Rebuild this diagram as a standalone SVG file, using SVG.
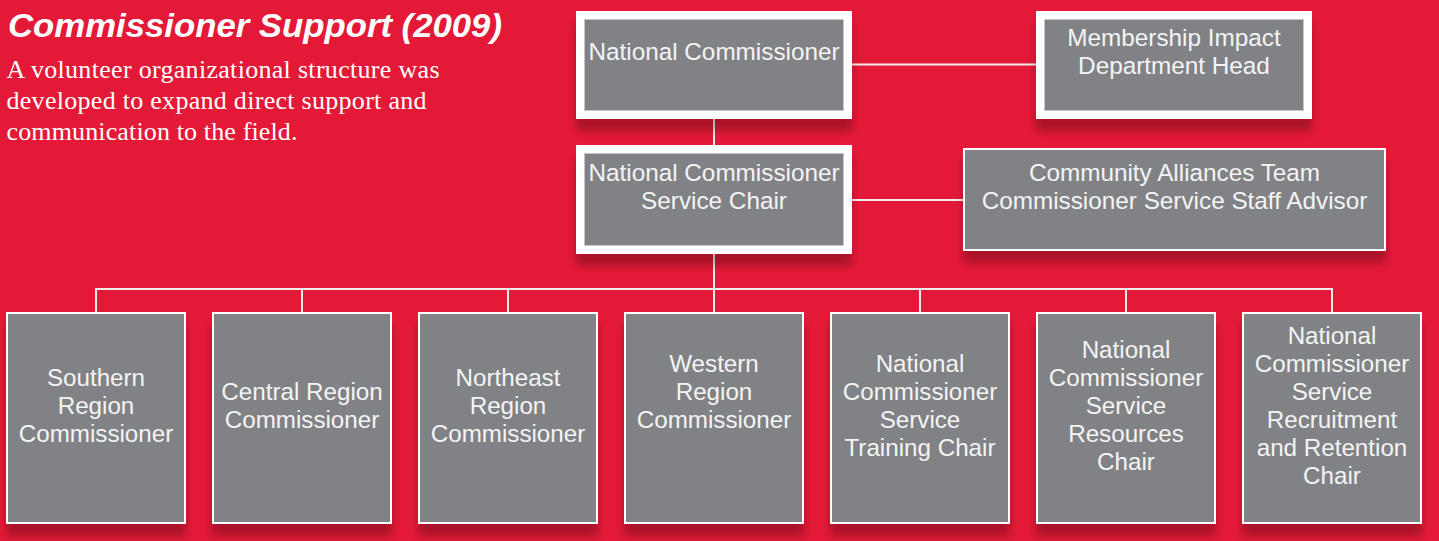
<svg xmlns="http://www.w3.org/2000/svg" width="1439" height="541" viewBox="0 0 1439 541">
  <style>
    .heading { font-family: "Liberation Sans", Arial, sans-serif; font-weight: bold; font-style: italic; font-size: 34px; fill: #ffffff; }
    .intro { font-family: "Liberation Serif", "Times New Roman", serif; font-size: 26px; fill: #ffffff; }
    .label { font-family: "Liberation Sans", Arial, sans-serif; font-size: 24.2px; fill: #f4f4f4; text-anchor: middle; }
    .label-top { font-size: 24.3px; }
    .box-thick { fill: #808285; stroke: #ffffff; stroke-width: 8; }
    .box-thin { fill: #808285; stroke: #ffffff; stroke-width: 2; }
    .edge-inner { fill: none; stroke: #c4c5c8; stroke-width: 1; }
    .link { fill: none; stroke: #ededed; stroke-width: 2; }
  </style>
  <defs>
    <filter id="shadow" x="-10%" y="-10%" width="120%" height="140%">
      <feDropShadow dx="0" dy="12" stdDeviation="4" flood-color="#000000" flood-opacity="0.25"/>
    </filter>
  </defs>

  <!-- background -->
  <rect x="0" y="0" width="1439" height="541" fill="#e31937"/>

  <!-- heading and intro text -->
  <text class="heading" x="8" y="37" textLength="494" lengthAdjust="spacingAndGlyphs">Commissioner Support (2009)</text>
  <text class="intro" x="6.5" y="78" textLength="433" lengthAdjust="spacing">A volunteer organizational structure was</text>
  <text class="intro" x="6.5" y="109" textLength="420" lengthAdjust="spacing">developed to expand direct support and</text>
  <text class="intro" x="6.5" y="140" textLength="291" lengthAdjust="spacing">communication to the field.</text>

  <!-- connectors -->
  <g id="connectors">
    <line class="link" x1="714" y1="119" x2="714" y2="145"/>
    <line class="link" x1="852" y1="64.5" x2="1036" y2="64.5"/>
    <line class="link" x1="852" y1="200" x2="963" y2="200"/>
    <line class="link" x1="714" y1="254" x2="714" y2="289"/>
    <line class="link" x1="95" y1="289" x2="1333" y2="289"/>
    <line class="link" x1="96" y1="289" x2="96" y2="312"/>
    <line class="link" x1="302" y1="289" x2="302" y2="312"/>
    <line class="link" x1="508" y1="289" x2="508" y2="312"/>
    <line class="link" x1="714" y1="289" x2="714" y2="312"/>
    <line class="link" x1="920" y1="289" x2="920" y2="312"/>
    <line class="link" x1="1126" y1="289" x2="1126" y2="312"/>
    <line class="link" x1="1332" y1="289" x2="1332" y2="312"/>
  </g>

  <!-- top tier -->
  <g id="national-commissioner">
    <rect class="box-thick" x="580" y="15" width="268" height="100" filter="url(#shadow)"/>
    <rect class="edge-inner" x="584.5" y="19.5" width="259" height="91"/>
    <text class="label label-top" x="714" y="60">National Commissioner</text>
  </g>

  <g id="membership-impact">
    <rect class="box-thick" x="1040" y="15" width="268" height="100" filter="url(#shadow)"/>
    <rect class="edge-inner" x="1044.5" y="19.5" width="259" height="91"/>
    <text class="label label-top" x="1174" y="46">Membership Impact</text>
    <text class="label label-top" x="1174" y="74">Department Head</text>
  </g>

  <g id="service-chair">
    <rect class="box-thick" x="580" y="149" width="268" height="101" filter="url(#shadow)"/>
    <rect class="edge-inner" x="584.5" y="153.5" width="259" height="92"/>
    <text class="label label-top" x="714" y="181">National Commissioner</text>
    <text class="label label-top" x="714" y="209">Service Chair</text>
  </g>

  <g id="community-alliances">
    <rect class="box-thin" x="964" y="149" width="421" height="101" filter="url(#shadow)"/>
    <text class="label label-top" x="1174.5" y="181">Community Alliances Team</text>
    <text class="label label-top" x="1174.5" y="209">Commissioner Service Staff Advisor</text>
  </g>

  <!-- bottom tier -->
  <g id="southern-region">
    <rect class="box-thin" x="7" y="313" width="178" height="210" filter="url(#shadow)"/>
    <text class="label" x="96" y="386">Southern</text>
    <text class="label" x="96" y="414">Region</text>
    <text class="label" x="96" y="442">Commissioner</text>
  </g>

  <g id="central-region">
    <rect class="box-thin" x="213" y="313" width="178" height="210" filter="url(#shadow)"/>
    <text class="label" x="302" y="400">Central Region</text>
    <text class="label" x="302" y="428">Commissioner</text>
  </g>

  <g id="northeast-region">
    <rect class="box-thin" x="419" y="313" width="178" height="210" filter="url(#shadow)"/>
    <text class="label" x="508" y="386">Northeast</text>
    <text class="label" x="508" y="414">Region</text>
    <text class="label" x="508" y="442">Commissioner</text>
  </g>

  <g id="western-region">
    <rect class="box-thin" x="625" y="313" width="178" height="210" filter="url(#shadow)"/>
    <text class="label" x="714" y="372">Western</text>
    <text class="label" x="714" y="400">Region</text>
    <text class="label" x="714" y="428">Commissioner</text>
  </g>

  <g id="training-chair">
    <rect class="box-thin" x="831" y="313" width="178" height="210" filter="url(#shadow)"/>
    <text class="label" x="920" y="372">National</text>
    <text class="label" x="920" y="400">Commissioner</text>
    <text class="label" x="920" y="428">Service</text>
    <text class="label" x="920" y="456">Training Chair</text>
  </g>

  <g id="resources-chair">
    <rect class="box-thin" x="1037" y="313" width="178" height="210" filter="url(#shadow)"/>
    <text class="label" x="1126" y="358">National</text>
    <text class="label" x="1126" y="386">Commissioner</text>
    <text class="label" x="1126" y="414">Service</text>
    <text class="label" x="1126" y="442">Resources</text>
    <text class="label" x="1126" y="470">Chair</text>
  </g>

  <g id="recruitment-retention-chair">
    <rect class="box-thin" x="1243" y="313" width="178" height="210" filter="url(#shadow)"/>
    <text class="label" x="1332" y="344">National</text>
    <text class="label" x="1332" y="372">Commissioner</text>
    <text class="label" x="1332" y="400">Service</text>
    <text class="label" x="1332" y="428">Recruitment</text>
    <text class="label" x="1332" y="456">and Retention</text>
    <text class="label" x="1332" y="484">Chair</text>
  </g>
</svg>
